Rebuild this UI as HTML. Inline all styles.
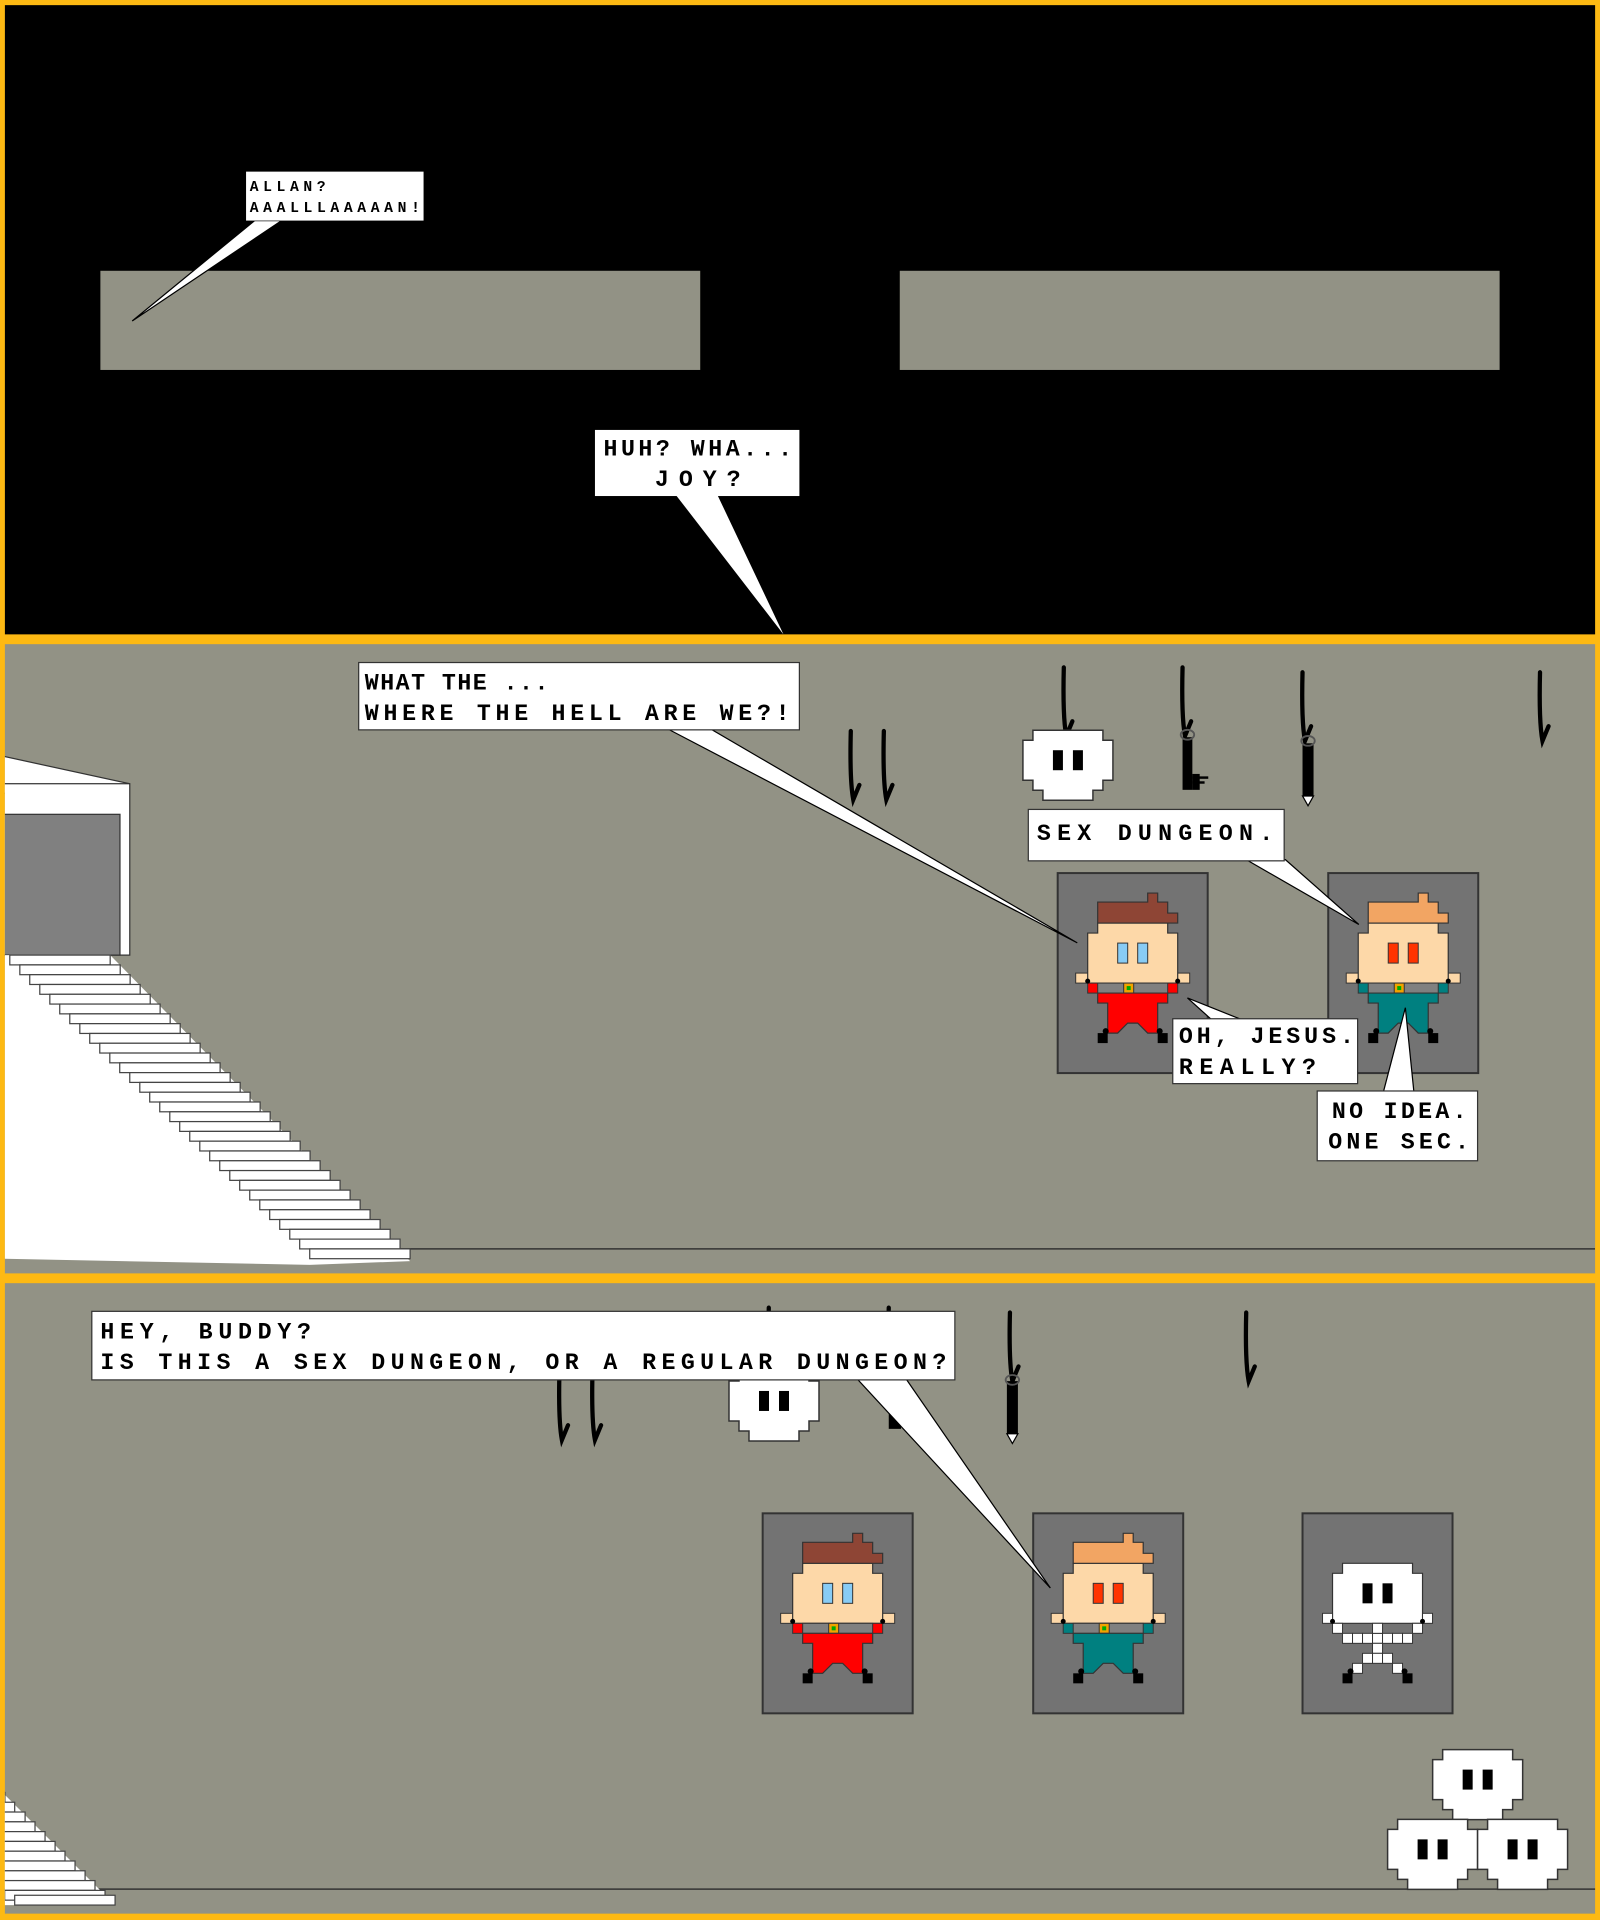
<!DOCTYPE html>
<html><head><meta charset="utf-8"><style>html,body{margin:0;padding:0;background:#FDB913}svg{display:block}
text{font-family:"Liberation Mono",monospace;font-weight:bold;fill:#000}
.shirt{fill:var(--shirt)}.eye{fill:var(--eye)}.hair{fill:var(--hair)}</style></head><body>
<svg width="1600" height="1920" viewBox="0 0 1307 1568" xmlns="http://www.w3.org/2000/svg">
<defs>
<g id="skull"><polygon points="10,0 80,0 80,10 90,10 90,50 80,50 80,60 70,60 70,70 20,70 20,60 10,60 10,50 0,50 0,10 10,10" fill="#fff" stroke="#333" stroke-width="1.5"/><rect x="30" y="20" width="10" height="20"/><rect x="50" y="20" width="10" height="20"/></g>
<g id="frame"><rect x="0" y="0" width="150" height="200" fill="#737373" stroke="#333" stroke-width="2"/></g>
<g id="guy">
<rect x="18" y="100" width="14" height="10" fill="#FDD8A8" stroke="#333"/><rect x="118" y="100" width="14" height="10" fill="#FDD8A8" stroke="#333"/>
<polygon points="40,50 110,50 110,60 120,60 120,110 30,110 30,60 40,60" fill="#FDD8A8" stroke="#333" stroke-width="1.2"/>
<rect x="30" y="110" width="90" height="10" class="shirt" stroke="#333"/>
<rect x="40" y="110" width="70" height="10" fill="#808080" stroke="#333"/>
<rect x="66" y="110" width="10" height="10" fill="#F3A200" stroke="#333"/><rect x="69" y="113" width="4" height="4" fill="#0a0"/>
<polygon points="40,120 110,120 110,130 100,130 100,160 90,160 80,150 70,150 60,160 50,160 50,130 40,130" class="shirt" stroke="#333" stroke-width="1.2"/>
<rect x="40" y="160" width="10" height="10"/><rect x="100" y="160" width="10" height="10"/>
<circle cx="48" cy="158" r="3"/><circle cx="102" cy="158" r="3"/><circle cx="30" cy="108" r="2.5"/><circle cx="120" cy="108" r="2.5"/>
<rect x="60" y="70" width="10" height="20" class="eye" stroke="#333"/><rect x="80" y="70" width="10" height="20" class="eye" stroke="#333"/>
<polygon points="40,29 90,29 90,20 100,20 100,29 110,29 110,40 120,40 120,50 40,50" class="hair" stroke="#333" stroke-width="1.2"/>
</g>
<g id="skel">
<polygon points="40,50 110,50 110,60 120,60 120,110 30,110 30,60 40,60" fill="#fff" stroke="#333" stroke-width="1.2"/>
<rect x="60" y="70" width="10" height="20"/><rect x="80" y="70" width="10" height="20"/>
<g fill="#fff" stroke="#333" stroke-width="1">
<rect x="20" y="100" width="10" height="10"/><rect x="30" y="110" width="10" height="10"/><rect x="120" y="100" width="10" height="10"/><rect x="110" y="110" width="10" height="10"/>
<rect x="40" y="120" width="10" height="10"/><rect x="50" y="120" width="10" height="10"/><rect x="60" y="120" width="10" height="10"/><rect x="70" y="120" width="10" height="10"/><rect x="80" y="120" width="10" height="10"/><rect x="90" y="120" width="10" height="10"/><rect x="100" y="120" width="10" height="10"/>
<rect x="70" y="110" width="10" height="10"/><rect x="70" y="130" width="10" height="10"/>
<rect x="60" y="140" width="10" height="10"/><rect x="70" y="140" width="10" height="10"/><rect x="80" y="140" width="10" height="10"/>
<rect x="50" y="150" width="10" height="10"/><rect x="90" y="150" width="10" height="10"/></g>
<rect x="40" y="160" width="10" height="10"/><rect x="100" y="160" width="10" height="10"/>
<circle cx="48" cy="158" r="3"/><circle cx="102" cy="158" r="3"/><circle cx="30" cy="108" r="2.5"/><circle cx="120" cy="108" r="2.5"/>
</g>
<path id="rope" d="M0,0 Q-1,40 2,56 L7,44" fill="none" stroke="#000" stroke-width="3.5" stroke-linecap="round"/>
<clipPath id="c2"><rect x="4" y="526" width="1299" height="514"/></clipPath>
<clipPath id="c3"><rect x="4" y="1048" width="1299" height="515"/></clipPath>
</defs>
<rect width="1307" height="1568" fill="#FDB913"/>
<!-- Panel 1 -->
<rect x="4" y="4" width="1299" height="514" fill="#000"/>
<rect x="82" y="221" width="490" height="81" fill="#929285"/>
<rect x="735" y="221" width="490" height="81" fill="#929285"/>
<polygon points="208,180 230,180 108,262" fill="#fff" stroke="#000" stroke-width="1"/>
<rect x="201" y="140" width="145" height="40" fill="#fff"/>
<text x="204" y="156" font-size="12" textLength="62" lengthAdjust="spacing">ALLAN?</text>
<text x="204" y="173" font-size="12" textLength="139" lengthAdjust="spacing">AAALLLAAAAAN!</text>
<polygon points="552,404 586,404 640,518" fill="#fff"/>
<rect x="486" y="351" width="167" height="54" fill="#fff"/>
<text x="493" y="372" font-size="19" textLength="154" lengthAdjust="spacing">HUH? WHA...</text>
<text x="535" y="397" font-size="19" textLength="70" lengthAdjust="spacing">JOY?</text>
<!-- Panel 2 -->
<rect x="4" y="526" width="1299" height="514" fill="#929285"/>
<g clip-path="url(#c2)">
<line x1="300" y1="1020" x2="1303" y2="1020" stroke="#333" stroke-width="1.2"/>
<polygon points="0,617 106,640 0,648" fill="#fff" stroke="#333" stroke-width="1"/>
<rect x="0" y="640" width="106" height="140" fill="#fff" stroke="#333" stroke-width="1"/>
<rect x="0" y="665" width="98" height="115" fill="#808080" stroke="#333" stroke-width="1"/>
<polygon points="0,780 90,780 335,1030 253,1033 0,1028" fill="#fff"/>
<g fill="#fff" stroke="#444" stroke-width="1">
<rect x="8" y="780" width="82" height="8"/><rect x="16.2" y="788" width="82" height="8"/><rect x="24.3" y="796" width="82" height="8"/><rect x="32.5" y="804" width="82" height="8"/><rect x="40.7" y="812" width="82" height="8"/><rect x="48.8" y="820" width="82" height="8"/><rect x="57" y="828" width="82" height="8"/><rect x="65.2" y="836" width="82" height="8"/><rect x="73.3" y="844" width="82" height="8"/><rect x="81.5" y="852" width="82" height="8"/><rect x="89.7" y="860" width="82" height="8"/><rect x="97.8" y="868" width="82" height="8"/><rect x="106" y="876" width="82" height="8"/><rect x="114.2" y="884" width="82" height="8"/><rect x="122.3" y="892" width="82" height="8"/><rect x="130.5" y="900" width="82" height="8"/><rect x="138.7" y="908" width="82" height="8"/><rect x="146.8" y="916" width="82" height="8"/><rect x="155" y="924" width="82" height="8"/><rect x="163.2" y="932" width="82" height="8"/><rect x="171.3" y="940" width="82" height="8"/><rect x="179.5" y="948" width="82" height="8"/><rect x="187.7" y="956" width="82" height="8"/><rect x="195.8" y="964" width="82" height="8"/><rect x="204" y="972" width="82" height="8"/><rect x="212.2" y="980" width="82" height="8"/><rect x="220.3" y="988" width="82" height="8"/><rect x="228.5" y="996" width="82" height="8"/><rect x="236.7" y="1004" width="82" height="8"/><rect x="244.8" y="1012" width="82" height="8"/><rect x="253" y="1020" width="82" height="8"/>
</g>
</g>
<use href="#rope" x="869" y="545"/><use href="#rope" x="966" y="545"/><use href="#rope" x="1064" y="549"/><use href="#rope" x="1258" y="549"/>
<use href="#rope" x="695" y="597"/><use href="#rope" x="722" y="597"/>
<g transform="translate(835.6,596.3) scale(0.8169)"><use href="#skull"/></g>
<rect x="966" y="602" width="8" height="43"/><rect x="974" y="632" width="6" height="13"/><rect x="974" y="634" width="13" height="2"/><rect x="974" y="638" width="10" height="2"/>
<ellipse cx="970" cy="600" rx="5.5" ry="4" fill="none" stroke="#555" stroke-width="1.5"/>
<rect x="1064" y="607" width="9" height="43"/><polygon points="1064,650 1073,650 1068.5,658" fill="#fff" stroke="#000"/>
<ellipse cx="1068.5" cy="605" rx="5.5" ry="4" fill="none" stroke="#555" stroke-width="1.5"/>
<g transform="translate(864,713) scale(0.8169)" style="--shirt:#FF0000;--eye:#88CCF5;--hair:#8E4535"><use href="#frame"/><use href="#guy"/></g>
<g transform="translate(1085,713) scale(0.8169)" style="--shirt:#008080;--eye:#FF3300;--hair:#F2A563"><use href="#frame"/><use href="#guy"/></g>
<polygon points="545,595 580,595 880,770" fill="#fff" stroke="#000" stroke-width="1"/>
<rect x="293" y="541" width="360" height="55" fill="#fff" stroke="#333" stroke-width="1"/>
<text x="298" y="563" font-size="19" textLength="150" lengthAdjust="spacing">WHAT THE ...</text>
<text x="298" y="588" font-size="19" textLength="347" lengthAdjust="spacing">WHERE THE HELL ARE WE?!</text>
<polygon points="1018,702 1050,702 1110,755" fill="#fff" stroke="#000" stroke-width="1"/>
<rect x="840" y="661" width="209" height="42" fill="#fff" stroke="#333" stroke-width="1"/>
<text x="847" y="686" font-size="19" textLength="193" lengthAdjust="spacing">SEX DUNGEON.</text>
<polygon points="990,833 970,815 1015,833" fill="#fff" stroke="#000" stroke-width="1"/>
<rect x="958" y="832" width="151" height="53" fill="#fff" stroke="#333" stroke-width="1"/>
<text x="963" y="852" font-size="19" textLength="143" lengthAdjust="spacing">OH, JESUS.</text>
<text x="963" y="877" font-size="19" textLength="112" lengthAdjust="spacing">REALLY?</text>
<polygon points="1130,892 1148,823 1155,892" fill="#fff" stroke="#000" stroke-width="1"/>
<rect x="1076" y="891" width="131" height="57" fill="#fff" stroke="#333" stroke-width="1"/>
<text x="1088" y="913" font-size="19" textLength="110" lengthAdjust="spacing">NO IDEA.</text>
<text x="1085" y="938" font-size="19" textLength="115" lengthAdjust="spacing">ONE SEC.</text>
<!-- Panel 3 -->
<rect x="4" y="1048" width="1299" height="515" fill="#929285"/>
<g clip-path="url(#c3)">
<line x1="0" y1="1543" x2="1307" y2="1543" stroke="#333" stroke-width="1.2"/>
<polygon points="0,1466 4,1466 94,1556 0,1556" fill="#fff"/>
<g fill="#fff" stroke="#444" stroke-width="1">
<rect x="-78" y="1464" width="82" height="8"/><rect x="-70" y="1472" width="82" height="8"/><rect x="-61.5" y="1480" width="82" height="8"/><rect x="-53.4" y="1488" width="82" height="8"/><rect x="-45.2" y="1496" width="82" height="8"/><rect x="-37" y="1504" width="82" height="8"/><rect x="-28.9" y="1512" width="82" height="8"/><rect x="-20.7" y="1520" width="82" height="8"/><rect x="-12.5" y="1528" width="82" height="8"/><rect x="-4.4" y="1536" width="82" height="8"/><rect x="3.8" y="1544" width="82" height="8"/><rect x="12" y="1548" width="82" height="8"/>
</g>
</g>
<use href="#rope" x="457" y="1120"/><use href="#rope" x="484" y="1120"/><use href="#rope" x="628" y="1068"/><use href="#rope" x="726" y="1068"/>
<use href="#rope" x="825" y="1072"/><use href="#rope" x="1018" y="1072"/>
<g transform="translate(595.5,1119.7) scale(0.8169)"><use href="#skull"/></g>
<rect x="726" y="1125" width="10" height="42"/>
<rect x="822.5" y="1128" width="9" height="43"/><polygon points="822.5,1171 831.5,1171 827,1179" fill="#fff" stroke="#000"/>
<ellipse cx="827" cy="1127" rx="5.5" ry="4" fill="none" stroke="#555" stroke-width="1.5"/>
<g transform="translate(623,1236) scale(0.8169)" style="--shirt:#FF0000;--eye:#88CCF5;--hair:#8E4535"><use href="#frame"/><use href="#guy"/></g>
<g transform="translate(844,1236) scale(0.8169)" style="--shirt:#008080;--eye:#FF3300;--hair:#F2A563"><use href="#frame"/><use href="#guy"/></g>
<g transform="translate(1064,1236) scale(0.8169)"><use href="#frame"/><use href="#skel"/></g>
<g transform="translate(1170.3,1429) scale(0.8169)"><use href="#skull"/></g>
<g transform="translate(1133.5,1486) scale(0.8169)"><use href="#skull"/></g>
<g transform="translate(1207,1486) scale(0.8169)"><use href="#skull"/></g>
<polygon points="700,1126 740,1126 858,1297" fill="#fff" stroke="#000" stroke-width="1"/>
<rect x="75" y="1071" width="705" height="56" fill="#fff" stroke="#333" stroke-width="1"/>
<text x="82" y="1093" font-size="19" textLength="172" lengthAdjust="spacing">HEY, BUDDY?</text>
<text x="82" y="1118" font-size="19" textLength="691" lengthAdjust="spacing">IS THIS A SEX DUNGEON, OR A REGULAR DUNGEON?</text>
</svg>
</body></html>
